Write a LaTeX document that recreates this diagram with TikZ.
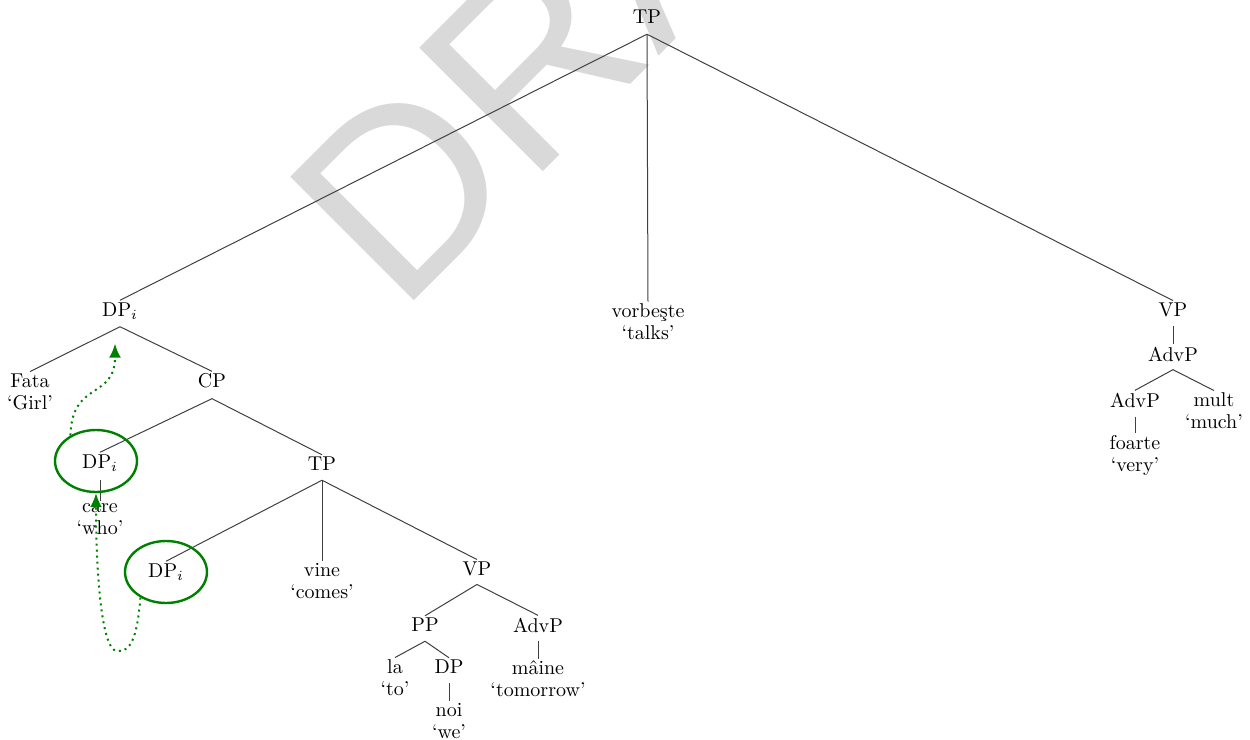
\documentclass[tikz,border=0pt]{standalone}
\usepackage{fontspec}
\newfontfamily\wmfont{Liberation Sans}
\usetikzlibrary{arrows.meta,shapes.geometric}
\definecolor{mvgreen}{RGB}{0,128,0}
\definecolor{wmgray}{gray}{0.85}
\tikzset{
  lab/.style={inner xsep=2pt, inner ysep=1pt, align=center, font=\fontsize{10}{11}\selectfont},
  br/.style={draw=black!75, line width=0.5pt},
  circ/.style={draw=mvgreen, line width=1.2pt, ellipse, minimum width=41pt, minimum height=31pt, inner sep=0pt},
  mv/.style={draw=mvgreen, line width=1pt, dotted, -{Latex[length=7pt,width=6pt]}},
  wm/.style={text=wmgray, rotate=45, anchor=base west, inner sep=0pt, font=\fontsize{127}{127}\selectfont\wmfont},
}
\begin{document}
\begin{tikzpicture}[x=0.5pt,y=-0.5pt]
\useasboundingbox (0,0) rectangle (1250,740);
\begin{scope}
\clip (0,0) rectangle (1250,740);
\node[wm] (wmark) at (399,316) {DRAFT};
\end{scope}
% nodes
\node[lab] (tp) at (647,17) {TP};
\node[lab] (dpi) at (120,311) {DP$_i$};
\node[lab] (vorb) at (648,322) {vorbeşte\\‘talks’};
\node[lab] (vp) at (1173,310) {VP};
\node[lab] (advpa) at (1173,354) {AdvP};
\node[lab] (advpb) at (1135,400) {AdvP};
\node[lab] (foarte) at (1135,455) {foarte\\‘very’};
\node[lab] (mult) at (1214,411) {mult\\‘much’};
\node[lab] (fata) at (30,392) {Fata\\‘Girl’};
\node[lab] (cp) at (212,381) {CP};
\node[lab] (dpb) at (100,463) {DP$_i$};
\node[lab] (care) at (100,519) {care\\‘who’};
\node[lab] (tpb) at (322,464) {TP};
\node[lab] (dpc) at (166,572) {DP$_i$};
\node[lab] (vine) at (322,581) {vine\\‘comes’};
\node[lab] (vpb) at (477,569) {VP};
\node[lab] (pp) at (425,625) {PP};
\node[lab] (la) at (395,678) {la\\‘to’};
\node[lab] (dp) at (449,667) {DP};
\node[lab] (noi) at (449,721) {noi\\‘we’};
\node[lab] (advpc) at (538,625) {AdvP};
\node[lab] (maine) at (538,679) {mâine\\‘tomorrow’};
% branches
\draw[br] ([yshift=-4pt]tp.south) -- (dpi.north);
\draw[br] ([yshift=-4pt]tp.south) -- (vorb.north);
\draw[br] ([yshift=-4pt]tp.south) -- (vp.north);
\draw[br] ([yshift=-3.5pt]vp.south) -- (advpa.north);
\draw[br] ([yshift=-3pt]advpa.south) -- (advpb.north);
\draw[br] ([yshift=-3pt]advpa.south) -- (mult.north);
\draw[br] ([yshift=-3.5pt]advpb.south) -- (foarte.north);
\draw[br] ([yshift=-2.5pt]dpi.south) -- (fata.north);
\draw[br] ([yshift=-2.5pt]dpi.south) -- (cp.north);
\draw[br] ([yshift=-4pt]cp.south) -- (dpb.north);
\draw[br] ([yshift=-4pt]cp.south) -- (tpb.north);
\draw[br] ([yshift=-3pt]dpb.south) -- (care.north);
\draw[br] ([yshift=-3.5pt]tpb.south) -- (dpc.north);
\draw[br] ([yshift=-3.5pt]tpb.south) -- (vine.north);
\draw[br] ([yshift=-3.5pt]tpb.south) -- (vpb.north);
\draw[br] ([yshift=-3pt]vpb.south) -- (pp.north);
\draw[br] ([yshift=-3pt]vpb.south) -- (advpc.north);
\draw[br] ([yshift=-3.5pt]pp.south) -- (la.north);
\draw[br] ([yshift=-3.5pt]pp.south) -- (dp.north);
\draw[br] ([yshift=-3.5pt]dp.south) -- (noi.north);
\draw[br] ([yshift=-3pt]advpc.south) -- (maine.north);
% circles
\node[circ] (eb) at (96,461) {};
\node[circ] (ec) at (166,572) {};
% movement arrows
\draw[mv] (eb.135) .. controls (72,380) and (115,400) .. ([xshift=-2.5pt,yshift=-11pt]dpi.south);
\draw[mv] (ec.225) .. controls (137,640) and (130,652) .. (117,651) .. controls (100,650) and (96,560) .. (eb.south);
\end{tikzpicture}
\end{document}
